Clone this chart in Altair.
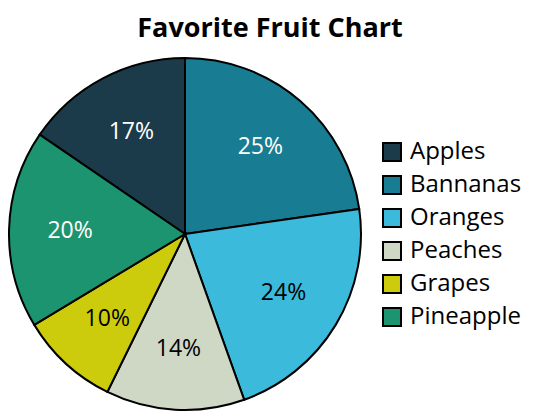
import altair as alt
import pandas as pd

title_text = "Favorite Fruit Chart"
fruits = ["Apples", "Bannanas", "Oranges", "Peaches", "Grapes", "Pineapple"]
percents = [17, 25, 24, 14, 10, 20]
slice_order = [6, 1, 2, 3, 4, 5]
fruit_colors = ["#1b3b4b", "#187d93", "#3cbadb", "#cfd7c5", "#cccc0d", "#1c9470"]
light_label_fruits = ["Apples", "Bannanas", "Pineapple"]

df = pd.DataFrame({"fruit": fruits, "percent": percents, "slice": slice_order})

CX, CY, R = 177, 226, 176
FONT = "Open Sans"

base = alt.Chart(df).encode(
    theta=alt.Theta("percent:Q", stack=True),
    order=alt.Order("slice:Q"),
)

pie = base.mark_arc(radius=R, stroke="black", strokeWidth=2).encode(
    x=alt.value(CX),
    y=alt.value(CY),
    color=alt.Color(
        "fruit:N",
        sort=fruits,
        scale=alt.Scale(domain=fruits, range=fruit_colors),
        legend=alt.Legend(
            title=None,
            orient="none",
            legendX=372,
            legendY=132,
            symbolType="square",
            symbolSize=324,
            symbolStrokeColor="black",
            symbolStrokeWidth=2,
            symbolOpacity=1,
            labelFontSize=24,
            labelFont=FONT,
            labelColor="black",
            labelOffset=6,
            rowPadding=7,
            padding=0,
        ),
    ),
)

labels = base.transform_calculate(
    label="datum.percent + '%'"
).mark_text(radius=115, fontSize=23, font=FONT).encode(
    x=alt.value(CX),
    y=alt.value(CY),
    text=alt.Text("label:N"),
    color=alt.condition(
        alt.FieldOneOfPredicate(field="fruit", oneOf=light_label_fruits),
        alt.value("white"),
        alt.value("black"),
    ),
)

title = alt.Chart(pd.DataFrame({"t": [title_text]})).mark_text(
    fontSize=27, fontWeight="bold", font=FONT, align="center", baseline="alphabetic"
).encode(
    text="t:N",
    x=alt.value(262),
    y=alt.value(29),
)

chart = alt.layer(pie, labels, title).properties(
    width=521,
    height=404,
    padding=0,
    autosize=alt.AutoSizeParams(type="none"),
).configure_view(stroke=None)

chart.save("out.html", embed_options={"renderer": "svg", "actions": False})
